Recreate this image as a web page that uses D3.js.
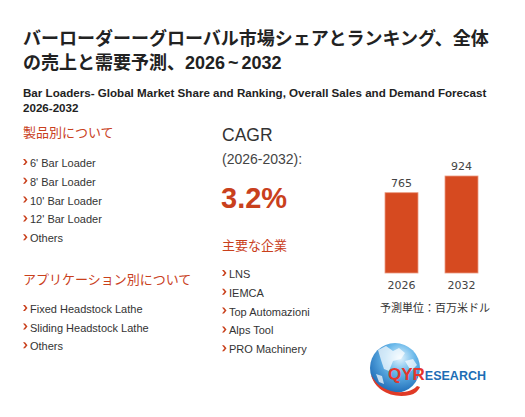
<!DOCTYPE html>
<html>
<head>
<meta charset="utf-8">
<script src="https://cdn.jsdelivr.net/npm/d3@7"></script>
<style>
  body { margin: 0; background: #fff; }
  svg { display: block; font-family: "Liberation Sans", Arial, "Noto Sans CJK JP", sans-serif; }
</style>
</head>
<body>
<svg id="chart" width="525" height="417"></svg>
<script>
const TITLE = [["バーローダーーグローバル市場シェアとランキング、全体", ""], ["の売上と需要予測、", "2026 ~ 2032"]]
const SUBTITLE = ["Bar Loaders- Global Market Share and Ranking, Overall Sales and Demand Forecast", "2026-2032"]
const PRODUCT_HEAD = "製品別について"
const PRODUCTS = ["6' Bar Loader", "8' Bar Loader", "10' Bar Loader", "12' Bar Loader", "Others"]
const APP_HEAD = "アプリケーション別について"
const APPS = ["Fixed Headstock Lathe", "Sliding Headstock Lathe", "Others"]
const COMPANY_HEAD = "主要な企業"
const COMPANIES = ["LNS", "IEMCA", "Top Automazioni", "Alps Tool", "PRO Machinery"]
const CAGR_PERIOD = "(2026-2032):"
const CAGR_VALUE = "3.2%"
const YEARS = ["2026", "2032"]
const SALES = [765, 924]
const UNIT = "予測単位：百万米ドル"

const RED = "#c9401c"
const BAR = "#d64a20"
const TXT = "#333"

let svg = d3.select("#chart")

// title: japanese part + latin digits
TITLE.forEach((parts, i) => {
    let t = svg.append("text")
        .attr("x", 23)
        .attr("y", 45 + i * 24)
        .style("font-weight", "bold")
        .style("font-size", "18px")
        .style("fill", "#222")
    t.append("tspan").text(parts[0])
        .style("font-family", "'Noto Sans CJK JP', sans-serif")
    if (parts[1]) {
        t.append("tspan").text(parts[1])
            .style("font-family", "'Liberation Sans', Arial, sans-serif")
            .style("font-size", "18px")
            .style("word-spacing", "-2px")
    }
})

svg.selectAll(".sub")
    .data(SUBTITLE)
    .enter()
    .append("text")
    .text(d => d)
    .attr("x", 23)
    .attr("y", (d, i) => 97 + i * 14.5)
    .style("font-weight", "bold")
    .style("font-size", "11.6px")
    .style("fill", "#222")

// list block with red chevrons
function drawList(x, headY, head, items, firstY, step) {
    svg.append("text")
        .text(head)
        .attr("x", x)
        .attr("y", headY)
        .style("font-family", "'Noto Sans CJK JP', sans-serif")
        .style("font-size", "13px")
        .style("fill", RED)
    let g = svg.append("g")
    items.forEach((t, i) => {
        let y = firstY + i * step
        g.append("path")
            .attr("d", `M${x},${y - 8} L${x + 2},${y - 8} L${x + 4.5},${y - 5} L${x + 2},${y - 2} L${x},${y - 2} L${x + 2.5},${y - 5} Z`)
            .style("fill", RED)
        g.append("text")
            .text(t)
            .attr("x", x + 7)
            .attr("y", y)
            .style("font-size", "11px")
            .style("fill", TXT)
    })
}

drawList(23, 137, PRODUCT_HEAD, PRODUCTS, 167, 18.8)
drawList(23, 284, APP_HEAD, APPS, 313, 18.6)
drawList(222, 250, COMPANY_HEAD, COMPANIES, 278, 18.8)

// CAGR
svg.append("text").text("CAGR")
    .attr("x", 222).attr("y", 141)
    .style("font-size", "17.5px").style("fill", TXT)
svg.append("text").text(CAGR_PERIOD)
    .attr("x", 222).attr("y", 164)
    .style("font-size", "14px").style("fill", "#444")
svg.append("text").text(CAGR_VALUE)
    .attr("x", 221).attr("y", 208)
    .style("font-size", "29px").style("font-weight", "bold").style("fill", RED)

// bar chart
let xs = d3.scaleBand()
    .domain(YEARS)
    .range([371.5, 491.5])
    .paddingInner(0.45)
    .paddingOuter(0.225)
let ys = d3.scaleLinear()
    .domain([0, 924])
    .range([273, 176])

let bars = svg.append("g")
YEARS.forEach((yr, i) => {
    bars.append("rect")
        .attr("x", xs(yr))
        .attr("y", ys(SALES[i]))
        .attr("width", xs.bandwidth())
        .attr("height", ys(0) - ys(SALES[i]))
        .style("fill", BAR)
        .style("stroke", "#eb9a80")
        .style("stroke-width", 0.8)
    bars.append("text")
        .text(SALES[i])
        .attr("x", xs(yr) + xs.bandwidth() / 2)
        .attr("y", ys(SALES[i]) - 6)
        .style("text-anchor", "middle")
        .style("font-family", "'DejaVu Sans', sans-serif")
        .style("font-size", "11px")
        .style("fill", "#444")
    bars.append("text")
        .text(yr)
        .attr("x", xs(yr) + xs.bandwidth() / 2)
        .attr("y", 289)
        .style("text-anchor", "middle")
        .style("font-family", "'DejaVu Sans', sans-serif")
        .style("font-size", "11px")
        .style("fill", "#444")
})
svg.append("text").text(UNIT)
    .attr("x", 435).attr("y", 312)
    .style("text-anchor", "middle")
    .style("font-family", "'Noto Sans CJK JP', sans-serif")
    .style("font-size", "11px")
    .style("fill", TXT)

// logo
let defs = svg.append("defs")
let grad = defs.append("radialGradient").attr("id", "globe")
    .attr("cx", "0.6").attr("cy", "0.3").attr("r", "0.75")
grad.append("stop").attr("offset", "0").attr("stop-color", "#e4f4fd")
grad.append("stop").attr("offset", "0.4").attr("stop-color", "#69b8ea")
grad.append("stop").attr("offset", "1").attr("stop-color", "#1664b2")

let logo = svg.append("g")
logo.append("circle")
    .attr("cx", 395).attr("cy", 368).attr("r", 25)
    .style("fill", "url(#globe)")
logo.append("path")
    .attr("d", "M378,350 L386,346 L393,351 L399,348 L405,353 L401,359 L393,361 L389,371 L384,369 L381,360 Z M405,361 L413,359 L417,365 L411,371 Z M376,374 L382,376 L384,384 L379,382 Z")
    .style("fill", "#ffffff").style("opacity", 0.7)
logo.append("path")
    .attr("d", "M371,374 C374,390 392,399 410,395 C415,394 418,391 420,387 L417,386 C413,391 402,394 391,391 C381,388 374,382 371,374 Z")
    .style("fill", "#e03a26")
logo.append("text")
    .attr("x", 388).attr("y", 380)
    .style("font-weight", "bold")
    .call(t => {
        t.append("tspan").text("QYR").style("font-size", "17px").style("fill", "#e5352b")
        t.append("tspan").text("ESEARCH").style("font-size", "12.5px").style("fill", "#1d6db5")
    })
</script>
</body>
</html>
